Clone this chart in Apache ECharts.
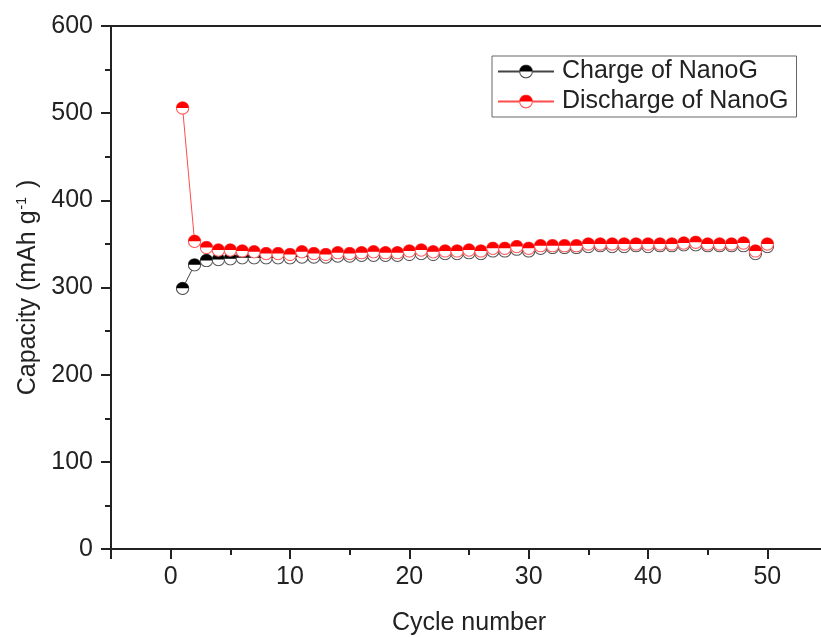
<!DOCTYPE html>
<html>
<head>
<meta charset="utf-8">
<script src="https://cdn.jsdelivr.net/npm/echarts@6/dist/echarts.min.js"></script>
<style>
  html, body { margin: 0; padding: 0; background: #fff; }
  #chart { width: 821px; height: 637px; }
</style>
</head>
<body>
<div id="chart"></div>
<script>
// cycle data
var cycles = [];
for (var i = 1; i <= 50; i++) cycles.push(i);
var charge = [299, 326, 331, 332, 333, 334, 334, 334, 334, 334,
              335, 335, 335, 336, 336, 337, 337, 337, 337, 338,
              339, 338, 339, 339, 340, 339, 342, 342, 344, 342,
              345, 346, 346, 346, 347, 348, 347, 347, 348, 347,
              348, 348, 349, 349, 348, 348, 348, 348, 339, 347];
var discharge = [506, 353, 346, 343, 343, 342, 341, 339, 339, 338,
                 341, 339, 338, 340, 339, 340, 341, 340, 340, 342,
                 343, 341, 342, 342, 343, 342, 345, 345, 347, 345,
                 348, 348, 348, 348, 350, 350, 350, 350, 350, 350,
                 350, 350, 351, 352, 350, 350, 350, 351, 342, 350];
var seriesNames = ['Charge of NanoG', 'Discharge of NanoG'];

var FONT = '"Liberation Sans", Arial, sans-serif';
var INK = '#222';

// half filled round marker (top filled, bottom white)
function halfSym(fill, edge) {
    var svg = '<svg xmlns="http://www.w3.org/2000/svg" width="24" height="24" viewBox="0 0 24 24">' +
        '<circle cx="12" cy="12" r="10.6" fill="#fff" stroke="' + edge + '" stroke-width="1.8"/>' +
        '<path d="M1.4,12 A10.6,10.6 0 0 1 22.6,12 Z" fill="' + fill + '"/></svg>';
    return 'image://data:image/svg+xml;charset=utf-8,' + encodeURIComponent(svg);
}

function pairs(ys) {
    return cycles.map(function (c, k) { return [c, ys[k]]; });
}

var chart = echarts.init(document.getElementById('chart'));
var option = {
    backgroundColor: '#fff',
    animation: false,
    textStyle: { fontFamily: FONT },
    grid: {
        left: 111, top: 26, width: 716, height: 523,
        outerBoundsMode: 'none',
        containLabel: false,
        show: true, borderColor: INK, borderWidth: 2,
        backgroundColor: 'transparent'
    },
    legend: {
        orient: 'vertical',
        left: 492, top: 56,
        padding: [3, 8, 3, 5],
        itemGap: 5,
        itemWidth: 56, itemHeight: 18,
        borderColor: '#666', borderWidth: 1,
        textStyle: { fontSize: 25, color: INK, fontFamily: FONT, padding: [0, 0, 0, 3] },
        data: seriesNames
    },
    xAxis: [{
        type: 'value',
        min: -5, max: 55,
        position: 'bottom',
        name: 'Cycle number',
        nameLocation: 'middle',
        nameGap: 62,
        nameTextStyle: { fontSize: 25, color: INK, fontFamily: FONT },
        axisLine: { onZero: false, lineStyle: { color: INK, width: 2 } },
        axisTick: { length: 10, lineStyle: { color: INK, width: 2 } },
        axisLabel: {
            fontSize: 25, color: INK, margin: 16,
            formatter: function (v) { return v % 10 === 0 ? String(v) : ''; }
        },
        splitLine: { show: false }
    }, {
        // minor ticks every 5 cycles
        type: 'value',
        min: -5, max: 55, interval: 5,
        position: 'bottom',
        axisLine: { show: false, onZero: false },
        axisTick: { length: 6, lineStyle: { color: INK, width: 2 } },
        axisLabel: { show: false },
        splitLine: { show: false }
    }],
    yAxis: {
        type: 'value',
        min: 0, max: 600, interval: 100,
        name: '{n|Capacity (mAh g}{s|-1}{n| )}',
        nameLocation: 'middle',
        nameGap: 68,
        nameTextStyle: {
            color: INK,
            rich: {
                n: { fontSize: 25, color: INK, fontFamily: FONT },
                s: { fontSize: 14, color: INK, fontFamily: FONT, verticalAlign: 'top', padding: [0, 2, 8, 1] }
            }
        },
        axisLine: { show: true, onZero: false, lineStyle: { color: INK, width: 2 } },
        axisTick: { show: true, length: 10, lineStyle: { color: INK, width: 2 } },
        minorTick: { show: true, splitNumber: 2, length: 6, lineStyle: { color: INK, width: 2 } },
        axisLabel: { fontSize: 25, color: INK, margin: 18 },
        splitLine: { show: false }
    },
    series: [{
        name: seriesNames[0],
        type: 'line',
        xAxisIndex: 0,
        data: pairs(charge),
        symbol: halfSym('#000', '#555'),
        symbolSize: 14,
        showAllSymbol: true,
        lineStyle: { color: '#444', width: 1 },
        itemStyle: { color: '#000' },
        z: 2
    }, {
        name: seriesNames[1],
        type: 'line',
        xAxisIndex: 0,
        data: pairs(discharge),
        symbol: halfSym('#ff0000', '#ff5a5a'),
        symbolSize: 14,
        showAllSymbol: true,
        lineStyle: { color: '#ff4d4d', width: 1 },
        itemStyle: { color: '#ff0000' },
        z: 3
    }]
};
chart.setOption(option);
</script>
</body>
</html>
